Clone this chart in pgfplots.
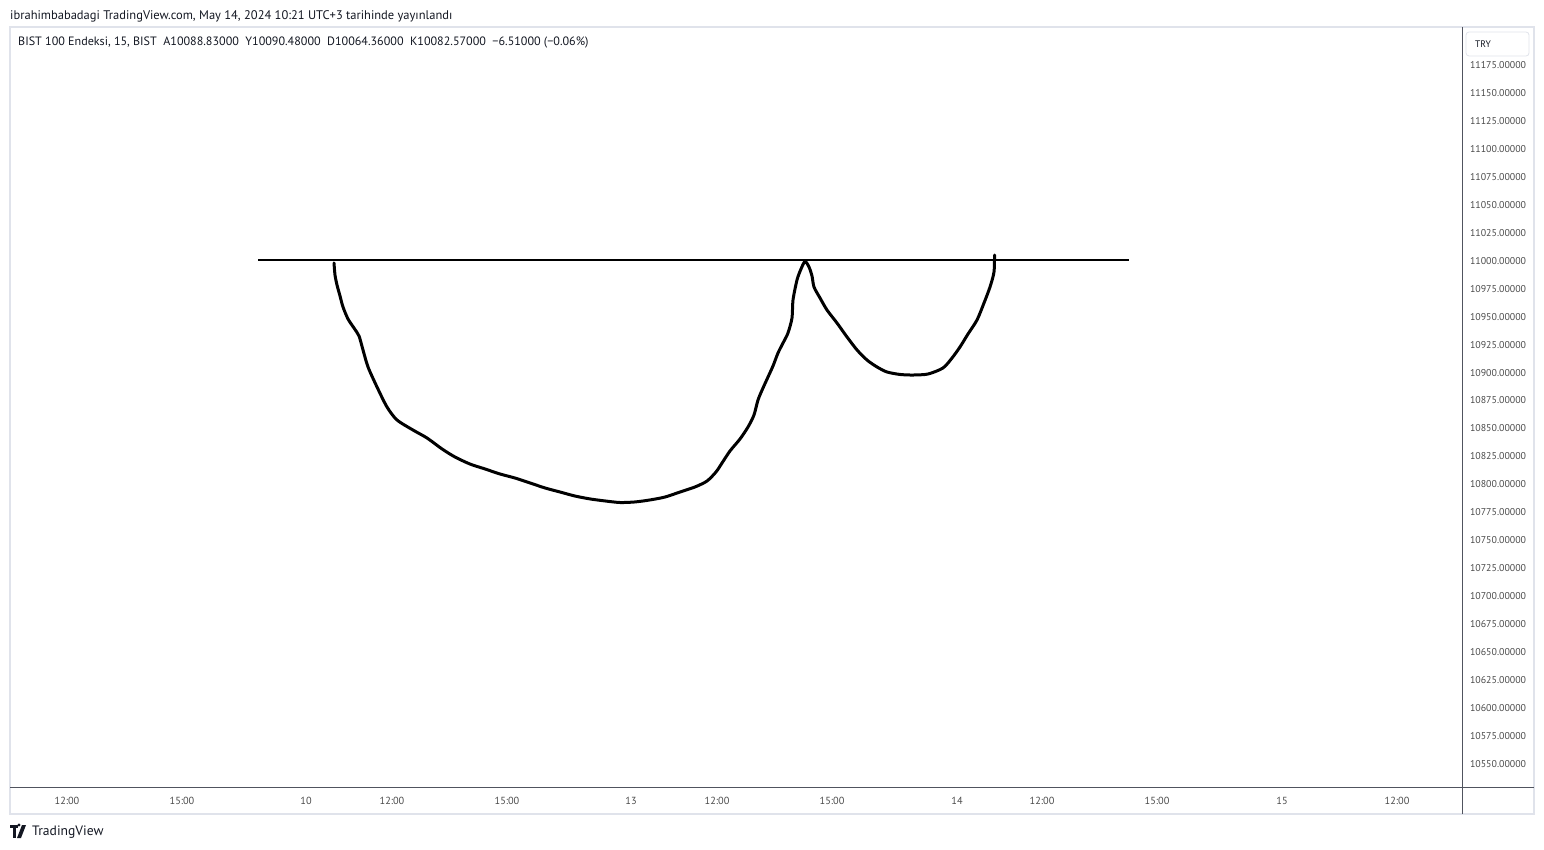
\documentclass[border=0pt]{standalone}
\usepackage{pgfplots}
\pgfplotsset{compat=1.18}
\usepackage{fontspec}
\setmainfont{PT Sans}
\definecolor{tvtext}{HTML}{131722}
\definecolor{tvgray}{HTML}{4A4A4A}
\definecolor{tvframe}{HTML}{E0E3EB}
\definecolor{tvsep}{HTML}{50535E}
\begin{document}
\begin{tikzpicture}[x=1pt,y=1pt]
\useasboundingbox (0,0) rectangle (1544,849);
% outer frame
\draw[tvframe, line width=1.5pt] (10,35) rectangle (1534,822);
\begin{axis}[
  at={(10pt,62pt)}, anchor=south west,
  scale only axis, width=1452pt, height=760pt,
  xmin=10, xmax=1462, ymin=10529.43, ymax=11208.98,
  axis x line*=bottom, axis y line*=right,
  axis line style={draw=none},
  major tick length=0pt,
  scaled y ticks=false,
  xtick={67,182,306,392,507,631,717,832,957,1042,1157,1282,1397},
  xticklabels={12:00,15:00,10,12:00,15:00,13,12:00,15:00,14,12:00,15:00,15,12:00},
  ytick={10550,10575,...,11175},
  /pgf/number format/fixed, /pgf/number format/fixed zerofill,
  /pgf/number format/precision=5, /pgf/number format/1000 sep={},
  /pgf/number format/assume math mode=true,
  yticklabel style={anchor=west, xshift=4.5pt, font=\fontsize{9.9}{11}\selectfont, text=tvgray},
  xticklabel style={yshift=-7pt, font=\fontsize{10.3}{11}\selectfont, text=tvgray},
  clip=false,
]
\addplot[black, line width=2.2pt] coordinates {(258,11000.5) (1129,11000.5)};
\addplot[black, line width=3pt, smooth, tension=0.45, line join=round, line cap=round] coordinates {
(334,10998.0) (335,10987.2) (337,10978.3) (340,10968.5) (343,10958.6) (348,10947.9)
(354,10939.8) (359,10932.7) (363,10920.2) (368,10905.0) (377,10887.1) (387,10869.2)
(397,10857.6) (413,10848.6) (427,10841.5) (442,10831.7) (455,10824.5) (470,10818.2)
(485,10813.8) (500,10809.3) (515,10805.7) (530,10801.3) (545,10796.8) (560,10793.2)
(575,10789.6) (590,10787.0) (605,10785.2) (620,10783.8) (635,10784.3) (650,10786.1)
(665,10788.7) (680,10793.2) (695,10797.7) (707,10803.0) (716,10811.1) (722,10819.1)
(730,10829.9) (740,10840.6) (748,10851.3) (754,10862.1) (758,10875.5) (763,10886.2)
(768,10896.0) (773,10905.9) (778,10917.5) (783,10926.4) (788,10935.4) (792,10948.8)
(793,10964.9) (797,10982.8) (801,10992.6) (805,10999.3) (809,10994.4) (812,10986.3)
(814,10976.5) (820,10966.7) (827,10955.9) (837,10944.3) (847,10931.8) (857,10920.2)
(867,10911.2) (877,10905.0) (887,10900.5) (900,10898.3) (913,10897.8) (928,10898.7)
(943,10904.1) (952,10913.0) (960,10922.9) (968,10934.5) (977,10947.0) (984,10962.2)
(990,10976.5) (994,10989.9) (994.5,11005.1)
};
\end{axis}
% separators
\draw[tvsep, line width=1pt] (1462,35) -- (1462,822);
\draw[tvsep, line width=1pt] (10,62) -- (1534,62);
% TRY box
\draw[tvframe, line width=0.8pt, rounded corners=3pt, fill=white] (1466,793) rectangle (1529,817);
\node[anchor=west, inner sep=0pt, font=\fontsize{9.5}{10}\selectfont, text=tvtext] at (1475,805) {TRY};
% header texts
\node[anchor=west, inner sep=0pt, font=\fontsize{12.5}{14}\selectfont, text=tvtext] at (10,833)
  {ibrahimbabadagi TradingView.com, May 14, 2024 10:21 UTC+3 tarihinde yayınlandı};
\node[anchor=west, inner sep=0pt, font=\fontsize{12.1}{14}\selectfont, text=tvtext] at (18,806)
  {BIST 100 Endeksi, 15, BIST\ \ A10088.83000\ \ Y10090.48000\ \ D10064.36000\ \ K10082.57000\ \ −6.51000 (−0.06\%)};
% TradingView logo
\fill[tvtext] (10,21) rectangle (18,24);
\fill[tvtext] (13,11) rectangle (16,21);
\fill[tvtext] (19,24) circle (1.6);
\fill[tvtext] (22,24) -- (26,24) -- (21,11) -- (17,11) -- cycle;
\node[anchor=west, inner sep=0pt, font=\fontsize{13.6}{15}\selectfont, text=tvtext] at (32,17) {TradingView};
\end{tikzpicture}
\end{document}
